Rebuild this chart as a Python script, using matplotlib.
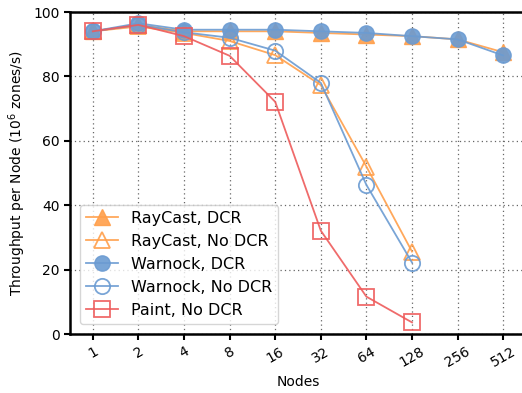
import matplotlib
matplotlib.use("Agg")
import matplotlib.pyplot as plt
import numpy as np

nodes = ["1", "2", "4", "8", "16", "32", "64", "128", "256", "512"]
raycast_dcr = [94.0, 96.0, 94.0, 94.0, 94.0, 93.5, 93.0, 92.5, 91.5, 87.5]
raycast_nodcr = [94.0, 95.5, 93.5, 91.0, 86.6, 77.3, 52.0, 25.6]
warnock_dcr = [94.0, 96.5, 94.5, 94.5, 94.5, 94.0, 93.5, 92.5, 91.5, 86.5]
warnock_nodcr = [94.0, 96.0, 93.7, 92.0, 88.0, 78.0, 46.3, 22.2]
paint_nodcr = [94.0, 96.0, 92.5, 86.4, 72.1, 32.1, 11.6, 3.6]

orange = "#ff9f4a"
blue = "#6b9bd2"
red = "#ee5b5b"

fig = plt.figure(figsize=(5.22, 3.93), dpi=100)
ax = fig.add_axes([70 / 522, (393 - 334) / 393, (526 - 70) / 522, (334 - 12) / 393])

x = np.arange(len(nodes))
ms = 11
ax.plot(x, raycast_dcr, color=orange, marker="^", ms=ms, lw=1.3, alpha=0.9,
        label="RayCast, DCR")
ax.plot(x[:len(raycast_nodcr)], raycast_nodcr, color=orange, marker="^", ms=ms, lw=1.3,
        alpha=0.9, mfc="none", mew=1.3, label="RayCast, No DCR")
ax.plot(x, warnock_dcr, color=blue, marker="o", ms=ms, lw=1.3, alpha=0.9,
        label="Warnock, DCR")
ax.plot(x[:len(warnock_nodcr)], warnock_nodcr, color=blue, marker="o", ms=ms, lw=1.3,
        alpha=0.9, mfc="none", mew=1.3, label="Warnock, No DCR")
ax.plot(x[:len(paint_nodcr)], paint_nodcr, color=red, marker="s", ms=ms, lw=1.3,
        alpha=0.9, mfc="none", mew=1.3, label="Paint, No DCR")

ax.set_xlim(-0.5, len(nodes) - 0.5)
ax.set_ylim(0, 100)
ax.set_xticks(x)
ax.set_xticklabels(nodes, rotation=30, fontsize=10)
ax.set_yticks(range(0, 101, 20))
ax.tick_params(axis="y", labelsize=10)
ax.tick_params(width=1.5, length=4)
ax.grid(True, linestyle=(0, (1, 2.5)), color="0.4", linewidth=0.9)
ax.set_axisbelow(True)
for side in ax.spines.values():
    side.set_linewidth(1.8)
ax.spines["right"].set_visible(False)

ax.set_xlabel("Nodes", fontsize=10)
ax.set_ylabel("Throughput per Node ($10^6$ zones/s)", fontsize=10)
leg = ax.legend(loc="lower left", fontsize=11.5, handlelength=2.0, borderaxespad=0.6,
                framealpha=0.8)
leg.get_frame().set_edgecolor("0.8")

fig.savefig("out.png", dpi=100)
